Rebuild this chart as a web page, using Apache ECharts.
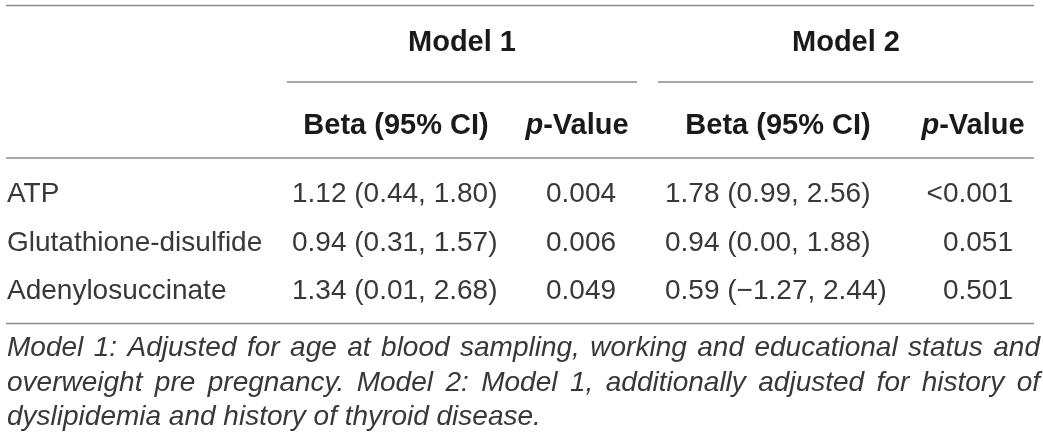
<!DOCTYPE html>
<html>
<head>
<meta charset="utf-8">
<script src="https://cdn.jsdelivr.net/npm/echarts@6/dist/echarts.min.js"></script>
<style>
html,body{margin:0;padding:0;background:#fff;}
#main{width:1043px;height:447px;}
</style>
</head>
<body>
<div id="main"></div>
<script>
// ---- data ----
const modelHeaders = ['Model 1', 'Model 2'];
const columnHeaders = ['Beta (95% CI)', 'p-Value', 'Beta (95% CI)', 'p-Value'];
const metabolites = ['ATP', 'Glutathione-disulfide', 'Adenylosuccinate'];
const model1Beta = ['1.12 (0.44, 1.80)', '0.94 (0.31, 1.57)', '1.34 (0.01, 2.68)'];
const model1P = ['0.004', '0.006', '0.049'];
const model2Beta = ['1.78 (0.99, 2.56)', '0.94 (0.00, 1.88)', '0.59 (\u22121.27, 2.44)'];
const model2P = ['<0.001', '0.051', '0.501'];
const footnoteLines = [
  'Model 1: Adjusted for age at blood sampling, working and educational status and',
  'overweight pre pregnancy. Model 2: Model 1, additionally adjusted for history of',
  'dyslipidemia and history of thyroid disease.'
];

// ---- layout (pixel space of hidden axes) ----
const W = 1043, H = 447;
const FONT = '"Liberation Sans", Arial, sans-serif';
const L = {
  left: 6, right: 1034,
  topRule: 5.5, midRule: 158, bottomRule: 323.5,
  modelY: 43, subY: 126, rowY: [194, 243, 291],
  modelX: [462, 846],
  underline: [[287, 637], [658, 1033]], underlineY: 82,
  subX: [396, 577, 778, 973],
  labelX: 7, beta1X: 292, p1X: 581, beta2X: 665, p2X: 1013,
  footY: [348, 383, 417], footW: 1033
};

const bodyColor = '#383838';
const headColor = '#1a1a1a';
const bodyFont = 'normal 28px ' + FONT;
const headFont = 'bold 29px ' + FONT;
const footFont = 'italic 28px ' + FONT;

const cells = [];
function cell(x, y, text, align, font, color, rich) {
  cells.push({ value: [x, y], text: text, align: align, font: font, color: color, rich: rich });
}
modelHeaders.forEach((t, i) => cell(L.modelX[i], L.modelY, t, 'center', headFont, headColor));
columnHeaders.forEach((t, i) => {
  if (t.indexOf('p-') === 0) {
    cell(L.subX[i], L.subY, '{i|p}{b|' + t.slice(1) + '}', 'center', headFont, headColor, {
      i: { font: 'italic bold 29px ' + FONT, fill: headColor },
      b: { font: headFont, fill: headColor }
    });
  } else {
    cell(L.subX[i], L.subY, t, 'center', headFont, headColor);
  }
});
metabolites.forEach((m, r) => {
  const y = L.rowY[r];
  cell(L.labelX, y, m, 'left', bodyFont, bodyColor);
  cell(L.beta1X, y, model1Beta[r], 'left', bodyFont, bodyColor);
  cell(L.p1X, y, model1P[r], 'center', bodyFont, bodyColor);
  cell(L.beta2X, y, model2Beta[r], 'left', bodyFont, bodyColor);
  cell(L.p2X, y, model2P[r], 'right', bodyFont, bodyColor);
});

// footnote: justify first lines to full width
const ctx = document.createElement('canvas').getContext('2d');
ctx.font = footFont;
footnoteLines.forEach((line, li) => {
  const y = L.footY[li];
  const last = li === footnoteLines.length - 1;
  if (last) { cell(L.labelX, y, line, 'left', footFont, bodyColor); return; }
  const words = line.split(' ');
  const widths = words.map(w => ctx.measureText(w).width);
  const total = widths.reduce((a, b) => a + b, 0);
  const gap = Math.max(4, (L.footW - total) / (words.length - 1));
  let x = L.labelX;
  words.forEach((w, k) => { cell(x, y, w, 'left', footFont, bodyColor); x += widths[k] + gap; });
});

const rules = [
  [L.left, L.topRule, L.right, L.topRule],
  [L.underline[0][0], L.underlineY, L.underline[0][1], L.underlineY],
  [L.underline[1][0], L.underlineY, L.underline[1][1], L.underlineY],
  [L.left, L.midRule, L.right, L.midRule],
  [L.left, L.bottomRule, L.right, L.bottomRule]
];

const chart = echarts.init(document.getElementById('main'), null, { renderer: 'canvas' });
chart.setOption({
  animation: false,
  backgroundColor: '#fff',
  grid: { left: 0, right: 0, top: 0, bottom: 0 },
  xAxis: { type: 'value', min: 0, max: W, show: false },
  yAxis: { type: 'value', min: 0, max: H, inverse: true, show: false },
  series: [
    {
      type: 'custom', silent: true,
      data: rules.map(r => ({ value: r })),
      encode: { x: [0, 2], y: [1, 3] },
      renderItem: function (params, api) {
        const a = api.coord([api.value(0), api.value(1)]);
        const b = api.coord([api.value(2), api.value(3)]);
        return { type: 'line', shape: { x1: a[0], y1: a[1], x2: b[0], y2: b[1] },
          style: { stroke: '#8a8a8a', lineWidth: 1.5 } };
      }
    },
    {
      type: 'custom', silent: true,
      data: cells.map(c => ({ value: c.value })),
      renderItem: function (params, api) {
        const c = cells[params.dataIndex];
        const p = api.coord([api.value(0), api.value(1)]);
        const style = { text: c.text, x: 0, y: 0, align: c.align, verticalAlign: 'middle', font: c.font, fill: c.color };
        if (c.rich) style.rich = c.rich;
        return { type: 'text', x: p[0], y: p[1], style: style };
      }
    }
  ]
});
</script>
</body>
</html>
